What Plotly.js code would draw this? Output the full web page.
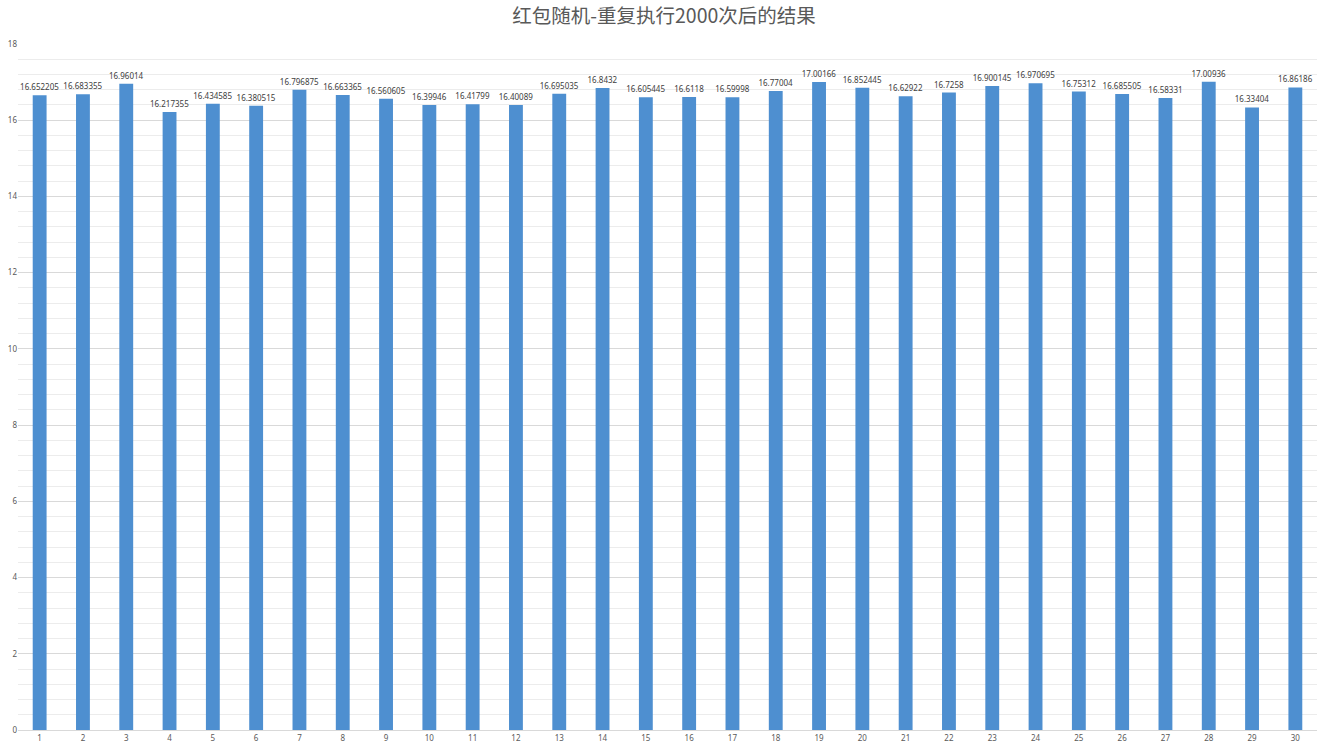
<!DOCTYPE html>
<html>
<head>
<meta charset="utf-8">
<script src="https://cdn.plot.ly/plotly-3.0.1.min.js"></script>
<style>
  body { margin: 0; background: #fff; }
  #chart { width: 1328px; height: 750px; }
</style>
</head>
<body>
<div id="chart"></div>
<script>
var runs = [];
for (var i = 1; i <= 30; i++) runs.push(String(i));

var avgAmount = [16.652205, 16.683355, 16.96014, 16.217355, 16.434585, 16.380515,
  16.796875, 16.663365, 16.560605, 16.39946, 16.41799, 16.40089, 16.695035, 16.8432,
  16.605445, 16.6118, 16.59998, 16.77004, 17.00166, 16.852445, 16.62922, 16.7258,
  16.900145, 16.970695, 16.75312, 16.685505, 16.58331, 17.00936, 16.33404, 16.86186];

var labels = avgAmount.map(function (v) { return String(v); });

var trace = {
  x: runs,
  y: avgAmount,
  type: 'bar',
  text: labels,
  textposition: 'outside',
  constraintext: 'none',
  textfont: { family: 'Noto Sans, sans-serif', size: 8, color: '#404040' },
  cliponaxis: false,
  marker: { color: '#4e8fd0' },
  hoverinfo: 'x+y'
};

var layout = {
  width: 1328,
  height: 750,
  margin: { l: 18, r: 11, t: 44, b: 20 },
  paper_bgcolor: '#fff',
  plot_bgcolor: '#fff',
  bargap: 0.68,
  showlegend: false,
  title: {
    text: '红包随机-重复执行2000次后的结果',
    font: { family: 'Noto Sans CJK SC, sans-serif', size: 19.5, color: '#595959' },
    x: 0.5, xanchor: 'center', y: 0.988, yanchor: 'top'
  },
  xaxis: {
    type: 'category',
    showgrid: false,
    showline: true,
    linecolor: '#d9d9d9',
    ticks: '',
    tickfont: { family: 'Noto Sans, sans-serif', size: 8, color: '#595959' }
  },
  yaxis: {
    range: [0, 18],
    dtick: 2,
    showgrid: true,
    gridcolor: '#d9d9d9',
    zeroline: false,
    ticks: '',
    ticklen: 0,
    tickfont: { family: 'Noto Sans, sans-serif', size: 8, color: '#595959' },
    minor: { dtick: 0.4, showgrid: true, gridcolor: '#ececec', ticks: '' }
  }
};

Plotly.newPlot('chart', [trace], layout, { displayModeBar: false, staticPlot: true });
</script>
</body>
</html>
